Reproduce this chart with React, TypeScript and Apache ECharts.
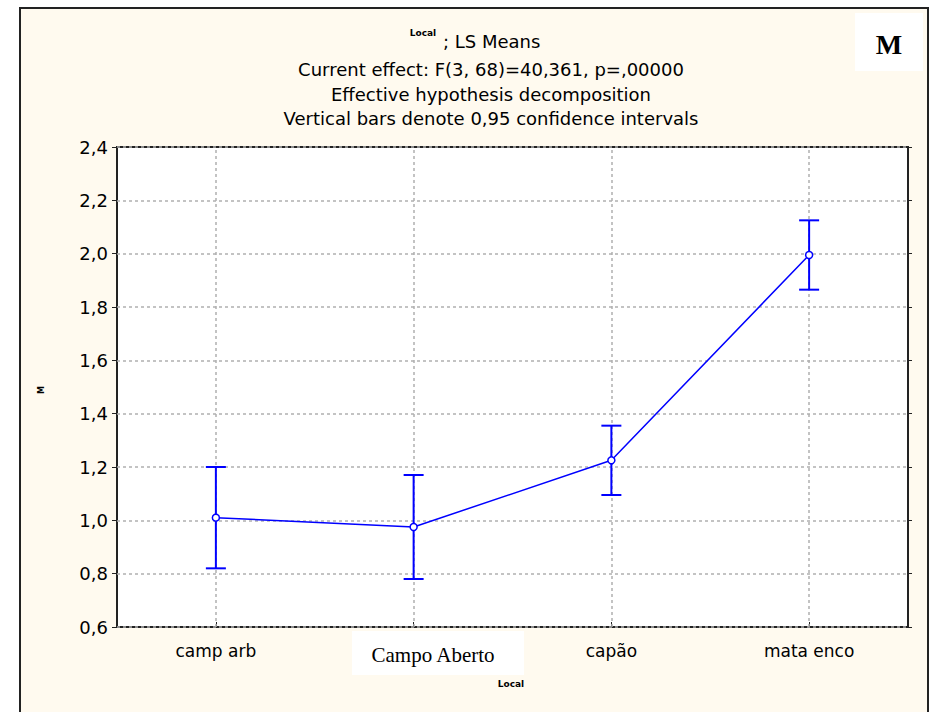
import React, { useEffect, useRef } from "react";
import * as echarts from "echarts";

const categories = ["camp arb", "Campo Aberto", "capão", "mata enco"];
const means = [1.01, 0.975, 1.225, 1.995];
const lower = [0.82, 0.78, 1.095, 1.865];
const upper = [1.2, 1.17, 1.355, 2.125];
const yTicks = { min: 0.6, max: 2.4, interval: 0.2 };
const titleLines = [
  "Current effect: F(3, 68)=40,361, p=,00000",
  "Effective hypothesis decomposition",
  "Vertical bars denote 0,95 confidence intervals",
];
const overlayLabel = "Campo Aberto";

const FONT = "DejaVu Sans";
const BLUE = "#0000FF";

export default function App() {
  const ref = useRef<HTMLDivElement>(null);
  useEffect(() => {
    if (!ref.current) return;
    const chart = echarts.init(ref.current, null, { renderer: "svg" });
    const errData = categories.map((c, i) => [i, lower[i], upper[i]]);
    chart.setOption({
      animation: false,
      backgroundColor: "#ffffff",
      grid: {
        left: 117,
        top: 147,
        width: 791,
        height: 480,
        show: true,
        backgroundColor: "#ffffff",
        borderColor: "#222",
        borderWidth: 2,
      },
      graphic: [
        {
          type: "rect",
          z: -10,
          shape: { x: 20, y: 8, width: 908, height: 720 },
          style: { fill: "#FFFAEF", stroke: "#222", lineWidth: 2 },
        },
        {
          type: "rect",
          z: -5,
          shape: { x: 855, y: 13, width: 68, height: 58 },
          style: { fill: "#ffffff" },
        },
        {
          type: "text",
          x: 889,
          y: 44,
          style: {
            text: "M",
            font: "bold 28px 'Liberation Serif'",
            fill: "#000",
            align: "center",
            verticalAlign: "middle",
          },
        },
        {
          type: "rect",
          z: 5,
          shape: { x: 352, y: 631, width: 172, height: 44 },
          style: { fill: "#ffffff" },
        },
        {
          type: "text",
          z: 6,
          x: 433,
          y: 655,
          style: {
            text: overlayLabel,
            font: "21px 'Liberation Serif'",
            fill: "#000",
            align: "center",
            verticalAlign: "middle",
          },
        },
        {
          type: "text",
          x: 423,
          y: 33,
          style: {
            text: "Local",
            font: `bold 9px '${FONT}'`,
            fill: "#000",
            align: "center",
            verticalAlign: "middle",
          },
        },
        {
          type: "text",
          x: 443,
          y: 41,
          style: {
            text: "; LS Means",
            font: `18px '${FONT}'`,
            fill: "#000",
            align: "left",
            verticalAlign: "middle",
          },
        },
        ...titleLines.map((t, i) => ({
          type: "text",
          x: 491,
          y: [69, 94, 118][i],
          style: {
            text: t,
            font: `18px '${FONT}'`,
            fill: "#000",
            align: "center",
            verticalAlign: "middle",
          },
        })),
        {
          type: "text",
          x: 511,
          y: 684,
          style: {
            text: "Local",
            font: `bold 9px '${FONT}'`,
            fill: "#000",
            align: "center",
            verticalAlign: "middle",
          },
        },
        {
          type: "text",
          x: 41,
          y: 390,
          rotation: Math.PI / 2,
          style: {
            text: "M",
            font: `bold 8px '${FONT}'`,
            fill: "#000",
            align: "center",
            verticalAlign: "middle",
          },
        },
      ],
      xAxis: {
        type: "category",
        data: categories,
        boundaryGap: true,
        axisLine: { show: false },
        axisTick: { show: true, inside: true, alignWithLabel: true, length: 5, lineStyle: { color: "#222" } },
        splitLine: { show: false },
        axisLabel: {
          interval: 0,
          hideOverlap: false,
          margin: 15,
          color: "#000",
          fontFamily: FONT,
          fontSize: 17,
          formatter: (v: string) => (v === overlayLabel ? "" : v),
        },
      },
      yAxis: [
        {
          type: "value",
          min: yTicks.min,
          max: yTicks.max,
          interval: yTicks.interval,
          axisLine: { show: false },
          axisTick: { show: true, length: 5, lineStyle: { color: "#222" } },
          axisLabel: {
            color: "#000",
            fontFamily: FONT,
            fontSize: 18,
            margin: 9,
            formatter: (v: number) => v.toFixed(1).replace(".", ","),
          },
          splitLine: { show: true, lineStyle: { color: "#b0b0b0", type: [3, 3], width: 1.5 } },
        },
        {
          type: "value",
          position: "right",
          min: yTicks.min,
          max: yTicks.max,
          interval: yTicks.interval,
          axisLine: { show: false },
          axisTick: { show: true, length: 4, lineStyle: { color: "#222" } },
          axisLabel: { show: false },
          splitLine: { show: false },
        },
      ],
      series: [
        {
          type: "custom",
          z: 3,
          data: errData,
          renderItem: (params: any, api: any) => {
            const x = api.value(0);
            const lo = api.coord([x, api.value(1)]);
            const hi = api.coord([x, api.value(2)]);
            const half = 10;
            const style = { stroke: BLUE, lineWidth: 2 };
            return {
              type: "group",
              children: [
                { type: "line", shape: { x1: lo[0], y1: lo[1], x2: hi[0], y2: hi[1] }, style },
                { type: "line", shape: { x1: lo[0] - half, y1: lo[1], x2: lo[0] + half, y2: lo[1] }, style },
                { type: "line", shape: { x1: hi[0] - half, y1: hi[1], x2: hi[0] + half, y2: hi[1] }, style },
              ],
            };
          },
        },
        {
          type: "line",
          z: 4,
          data: means,
          symbol: "circle",
          symbolSize: 7,
          itemStyle: { color: "#ffffff", borderColor: BLUE, borderWidth: 1.5 },
          lineStyle: { color: BLUE, width: 1.5 },
          markLine: {
            silent: true,
            symbol: "none",
            z: 2,
            label: { show: false },
            lineStyle: { color: "#b0b0b0", type: [3, 3], width: 1.5 },
            data: categories.map((c) => ({ xAxis: c })),
          },
        },
      ],
    });
    return () => chart.dispose();
  }, []);
  return (
    <div
      ref={ref}
      style={{ position: "fixed", left: 0, top: 0, width: 931, height: 712 }}
    />
  );
}
